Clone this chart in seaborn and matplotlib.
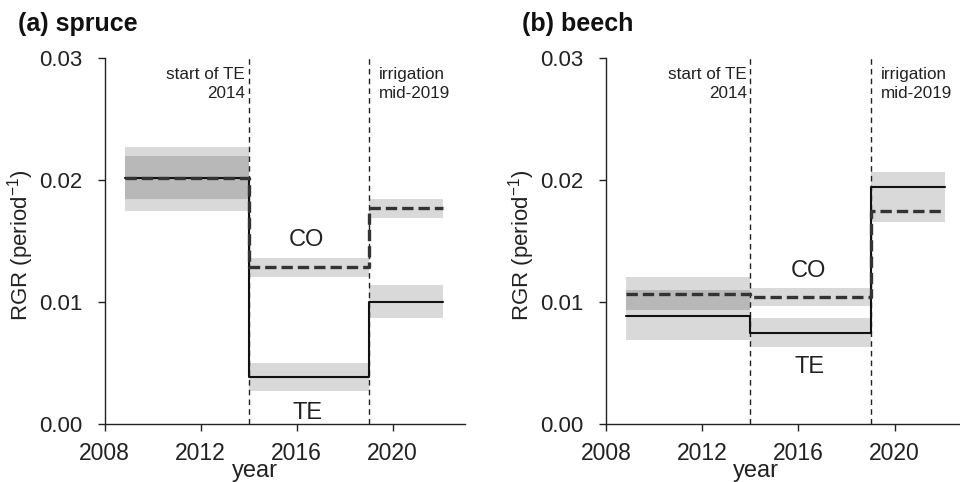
import numpy as np
import pandas as pd
import matplotlib
matplotlib.use("Agg")
import matplotlib.pyplot as plt
import seaborn as sns

# Period boundaries (year) shared by both species
period_edges = [2008.85, 2014.0, 2019.0, 2022.1]

# Spruce: relative growth rate per period, control (CO) and throughfall exclusion (TE)
spruce_co = [0.0202, 0.0129, 0.0177]
spruce_co_lo = [0.0185, 0.0121, 0.0169]
spruce_co_hi = [0.0227, 0.0136, 0.0185]
spruce_te = [0.0202, 0.0039, 0.0100]
spruce_te_lo = [0.0175, 0.0027, 0.0087]
spruce_te_hi = [0.0220, 0.0050, 0.0114]

# Beech
beech_co = [0.0107, 0.01045, 0.0175]
beech_co_lo = [0.0094, 0.0097, 0.0166]
beech_co_hi = [0.0121, 0.0112, 0.0183]
beech_te = [0.0089, 0.0075, 0.0195]
beech_te_lo = [0.0069, 0.0063, 0.0183]
beech_te_hi = [0.0110, 0.0087, 0.0207]

event_years = [2014, 2019]
event_labels = ["start of TE\n2014", "irrigation\nmid-2019"]
x_ticks = [2008, 2012, 2016, 2020]
y_ticks = [0.00, 0.01, 0.02, 0.03]
y_tick_labels = ["0.00", "0.01", "0.02", "0.03"]

sns.set_theme(style="ticks")
plt.rcParams["font.family"] = ["Liberation Sans", "DejaVu Sans"]
plt.rcParams["mathtext.default"] = "regular"

INK = "#222222"


def step_frame(values, label):
    # repeat the last value so the step extends to the end of the final period
    return pd.DataFrame({
        "year": period_edges,
        "rgr": list(values) + [values[-1]],
        "treatment": label,
    })


def draw_panel(ax, co, co_lo, co_hi, te, te_lo, te_hi, co_xy, te_xy):
    # uncertainty bands
    for lo, hi in ((co_lo, co_hi), (te_lo, te_hi)):
        for i in range(len(lo)):
            ax.fill_between([period_edges[i], period_edges[i + 1]], lo[i], hi[i],
                            color="black", alpha=0.15, linewidth=0, zorder=1)

    sns.lineplot(data=step_frame(te, "TE"), x="year", y="rgr", ax=ax,
                 estimator=None, sort=False, drawstyle="steps-post",
                 color="#111111", linewidth=1.5, zorder=3)
    sns.lineplot(data=step_frame(co, "CO"), x="year", y="rgr", ax=ax,
                 estimator=None, sort=False, drawstyle="steps-post",
                 color="#333333", linewidth=2.4, linestyle=(0, (3.4, 1.5)),
                 zorder=4)

    for yr in event_years:
        ax.axvline(yr, color=INK, linewidth=1.0, linestyle=(0, (4, 3)), zorder=2)

    ax.text(2013.85, 0.0293, event_labels[0], ha="right", va="top",
            fontsize=12.3, linespacing=1.3, color=INK)
    ax.text(2019.42, 0.0293, event_labels[1], ha="left", va="top",
            fontsize=12.3, linespacing=1.3, color=INK)

    ax.text(co_xy[0], co_xy[1], "CO", ha="center", va="center", fontsize=17, color=INK)
    ax.text(te_xy[0], te_xy[1], "TE", ha="center", va="center", fontsize=17, color=INK)

    ax.set_xlim(2008, 2023)
    ax.set_ylim(0, 0.03)
    ax.set_xticks(x_ticks)
    ax.set_xticklabels([str(t) for t in x_ticks])
    ax.set_yticks(y_ticks)
    ax.set_yticklabels(y_tick_labels)
    ax.tick_params(axis="both", length=5, width=1.0, colors=INK, direction="out")
    ax.tick_params(axis="x", labelsize=16.5, pad=8)
    ax.tick_params(axis="y", labelsize=16, pad=11)
    for side in ("left", "bottom"):
        ax.spines[side].set_linewidth(1.0)
        ax.spines[side].set_color(INK)
    sns.despine(ax=ax)

    ax.set_xlabel("year", fontsize=17, color=INK)
    ax.xaxis.set_label_coords(0.417, -0.097)
    ax.set_ylabel("RGR (period$^{-1}$)", fontsize=16, color=INK)
    ax.yaxis.set_label_coords(-0.19, 0.49)


fig = plt.figure(figsize=(9.6, 4.82), dpi=100)
ax1 = fig.add_axes([0.109, 0.1197, 0.375, 0.759])
ax2 = fig.add_axes([0.63125, 0.1197, 0.3758, 0.759])

draw_panel(ax1, spruce_co, spruce_co_lo, spruce_co_hi,
           spruce_te, spruce_te_lo, spruce_te_hi,
           (2016.4, 0.0151), (2016.45, 0.0009))
draw_panel(ax2, beech_co, beech_co_lo, beech_co_hi,
           beech_te, beech_te_lo, beech_te_hi,
           (2016.4, 0.01255), (2016.45, 0.0047))

fig.text(0.0188, 0.951, "(a) spruce", fontsize=18, fontweight="bold",
         ha="left", va="center", color="#111111")
fig.text(0.5434, 0.951, "(b) beech", fontsize=18, fontweight="bold",
         ha="left", va="center", color="#111111")

fig.savefig("out.png", dpi=100)
